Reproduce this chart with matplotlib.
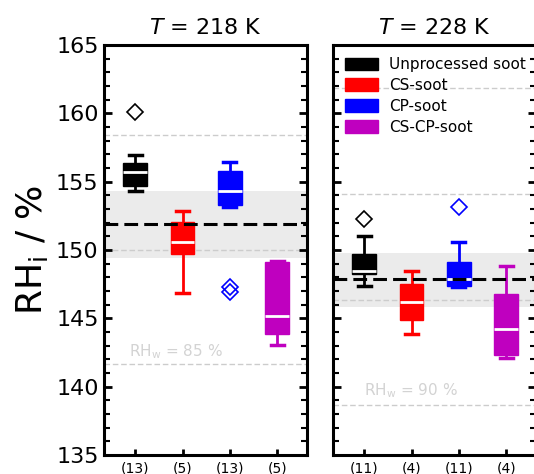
import numpy as np
import matplotlib
matplotlib.use('Agg')
import matplotlib.pyplot as plt
from matplotlib.patches import Patch
from matplotlib.ticker import MultipleLocator

labels = ['Unprocessed soot', 'CS-soot', 'CP-soot', 'CS-CP-soot']
colours = ['black', 'red', 'blue', 'm']

temps = ['218', '228']
counts = [['(13)', '(5)', '(13)', '(5)'],
          ['(11)', '(4)', '(11)', '(4)']]

# box statistics, one list per panel, order as labels
whishi = [[156.95, 152.86, 156.44, 149.22],
          [151.03, 148.47, 150.61, 148.86]]
q3 = [[156.39, 152.07, 155.80, 149.10],
      [149.71, 147.52, 149.15, 146.76]]
med = [[155.69, 150.57, 154.32, 145.18],
       [148.49, 146.20, 147.88, 144.22]]
q1 = [[154.71, 149.69, 153.30, 143.84],
      [148.23, 144.88, 147.37, 142.30]]
whislo = [[154.34, 146.88, 153.17, 143.05],
          [147.39, 143.88, 147.30, 142.10]]
fliers = [[[160.12], [], [147.27, 146.95], []],
          [[152.25], [], [153.17], []]]

# mean onset and its spread
mean_rh = [151.93, 147.86]
band_lo = [149.40, 145.86]
band_hi = [154.34, 149.81]

# RH_w isolines (water saturation fractions)
rhw_lines = [[141.64, 150.0, 158.39],
             [138.67, 146.35, 154.1, 161.88]]
rhw_text = ['RH$_\\mathrm{w}$ = 85 %', 'RH$_\\mathrm{w}$ = 90 %']
rhw_text_pos = [(0.87, 141.85), (1.0, 139.05)]

fig = plt.figure(figsize=(5.34, 4.74), dpi=100)
W, H = 534, 474
ax1 = fig.add_axes([103.5 / W, 19 / H, 203 / W, 410 / H])
ax2 = fig.add_axes([332.5 / W, 19 / H, 203 / W, 410 / H])

pos = [1, 2, 3, 4]
for k, ax in enumerate([ax1, ax2]):
    ax.axhspan(band_lo[k], band_hi[k], color='#ebebeb', lw=0, zorder=0)
    for y in rhw_lines[k]:
        ax.axhline(y, color='#cccccc', lw=1, ls=(0, (4, 2)), zorder=1)
    tx, ty = rhw_text_pos[k]
    ax.text(tx, ty, rhw_text[k], color='#d3d3d3', fontsize=11, va='bottom', zorder=1)

    stats = []
    for i in range(4):
        stats.append({'med': med[k][i], 'q1': q1[k][i], 'q3': q3[k][i],
                      'whislo': whislo[k][i], 'whishi': whishi[k][i],
                      'fliers': np.array(fliers[k][i])})
    bp = ax.bxp(stats, positions=pos, widths=0.5, capwidths=0.28,
                patch_artist=True, manage_ticks=False)
    for i, c in enumerate(colours):
        bp['boxes'][i].set(facecolor=c, edgecolor=c, linewidth=1, zorder=3)
        bp['medians'][i].set(color='white', linewidth=2, zorder=4)
        for w in bp['whiskers'][2 * i:2 * i + 2]:
            w.set(color=c, linewidth=2, zorder=2)
        for cp in bp['caps'][2 * i:2 * i + 2]:
            cp.set(color=c, linewidth=2.5, zorder=2)
        bp['fliers'][i].set(marker='D', markerfacecolor='none', markeredgecolor=c,
                            markersize=8, markeredgewidth=1.2)

    ax.axhline(mean_rh[k], color='black', lw=2.2, ls=(0, (4.5, 2)), zorder=5)

    ax.set_xlim(0.33, 4.62)
    ax.set_ylim(135, 165)
    ax.set_xticks(pos)
    ax.set_xticklabels(counts[k], fontsize=10)
    ax.yaxis.set_major_locator(MultipleLocator(5))
    ax.yaxis.set_minor_locator(MultipleLocator(1))
    ax.tick_params(axis='y', which='both', direction='in', left=True, right=True)
    ax.tick_params(axis='y', which='major', length=6, width=2, labelsize=16)
    ax.tick_params(axis='y', which='minor', length=4, width=1.5)
    ax.tick_params(axis='x', direction='in', length=4, width=2, pad=5)
    for s in ax.spines.values():
        s.set_linewidth(2.2)
    ax.set_title('$T$ = %s K' % temps[k], fontsize=16, pad=8)

ax2.tick_params(axis='y', labelleft=False)
ax1.set_ylabel('RH$_\\mathrm{i}$ / %', fontsize=26, labelpad=4)

handles = [Patch(facecolor=c, edgecolor=c) for c in colours]
ax2.legend(handles, labels, loc='upper left', fontsize=11, frameon=False,
           handlelength=2.2, handleheight=0.9, labelspacing=0.38,
           handletextpad=0.7, borderaxespad=0.4)

fig.savefig('out.png', dpi=100)
